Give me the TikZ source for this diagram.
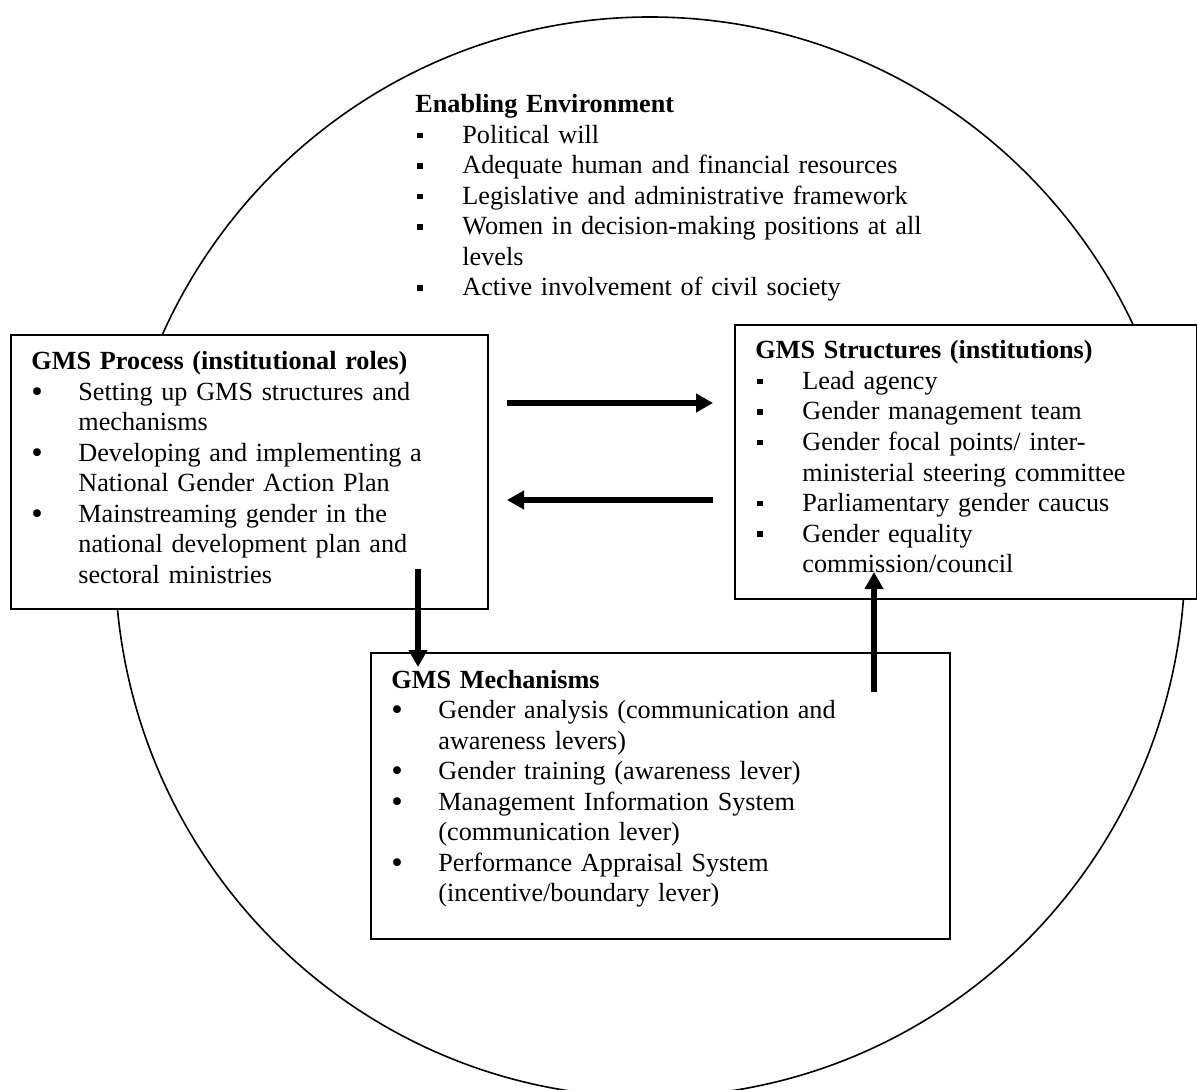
\documentclass[tikz,border=0pt]{standalone}
\usepackage{fontspec}
\setmainfont{Liberation Serif}
\usetikzlibrary{arrows.meta}
\newcommand{\sqb}{\hspace{1pt}\raisebox{2.6pt}{\rule{2.8pt}{2.8pt}}}
\newcommand{\rdb}{\raisebox{-1.1pt}{\scalebox{1.25}{\textbullet}}}
\newlength\hangw
\setlength\hangw{23.5pt}
\newcommand{\li}[2]{\par\noindent\makebox[\hangw][l]{#1}#2}
\tikzset{
  box/.style={draw, line width=1pt, fill=white, inner sep=0pt, anchor=north west},
  txt/.style={anchor=base west, inner sep=0pt, text width=290pt, align=left,
              font=\fontsize{13.1pt}{15.25pt}\selectfont},
  arr/.style={line width=3pt, -{Triangle[length=8.5pt,width=9pt]}},
  ring/.style={line width=0.8pt}
}
\begin{document}
\begin{tikzpicture}[x=0.5pt,y=-0.5pt]
\useasboundingbox (0,0) rectangle (1197,1090);
\clip (0,0) rectangle (1197,1090);
\fill[white] (0,0) rectangle (1197,1090);
% enabling environment ring
\draw[ring] (650,557) ellipse [x radius=267.5pt, y radius=270pt];
% boxes
\node[box, minimum width=238.5pt, minimum height=137pt] (proc) at (10,334) {};
\node[box, minimum width=231pt, minimum height=137pt] (struct) at (734,324) {};
\node[box, minimum width=289.5pt, minimum height=143pt] (mech) at (370,652) {};
% texts
\node[txt] (env) at (415,113) {\textbf{Enabling Environment}
\li{\sqb}{Political will}
\li{\sqb}{Adequate human and financial resources}
\li{\sqb}{Legislative and administrative framework}
\li{\sqb}{Women in decision-making positions at all}
\li{}{levels}
\li{\sqb}{Active involvement of civil society}};
\node[txt] (proctext) at (31,370) {\textbf{GMS Process (institutional roles)}
\li{\rdb}{Setting up GMS structures and}
\li{}{mechanisms}
\li{\rdb}{Developing and implementing a}
\li{}{National Gender Action Plan}
\li{\rdb}{Mainstreaming gender in the}
\li{}{national development plan and}
\li{}{sectoral ministries}};
\node[txt] (structtext) at (755,359) {\textbf{GMS Structures (institutions)}
\li{\sqb}{Lead agency}
\li{\sqb}{Gender management team}
\li{\sqb}{Gender focal points/ inter-}
\li{}{ministerial steering committee}
\li{\sqb}{Parliamentary gender caucus}
\li{\sqb}{Gender equality}
\li{}{commission/council}};
\node[txt] (mechtext) at (391,688) {\textbf{GMS Mechanisms}
\li{\rdb}{Gender analysis (communication and}
\li{}{awareness levers)}
\li{\rdb}{Gender training (awareness lever)}
\li{\rdb}{Management Information System}
\li{}{(communication lever)}
\li{\rdb}{Performance Appraisal System}
\li{}{(incentive/boundary lever)}};
% arrow end points
\coordinate (a1s) at (507,403);
\coordinate (a1e) at (713,403);
\coordinate (a2s) at (713,500);
\coordinate (a2e) at (507,500);
\coordinate (a3s) at (418,569);
\coordinate (a3e) at (418,667);
\coordinate (a4s) at (874,692);
\coordinate (a4e) at (874,572);
\draw[arr] (a1s) -- (a1e);
\draw[arr] (a2s) -- (a2e);
\draw[arr] (a3s) -- (a3e);
\draw[arr] (a4s) -- (a4e);
\end{tikzpicture}
\end{document}
